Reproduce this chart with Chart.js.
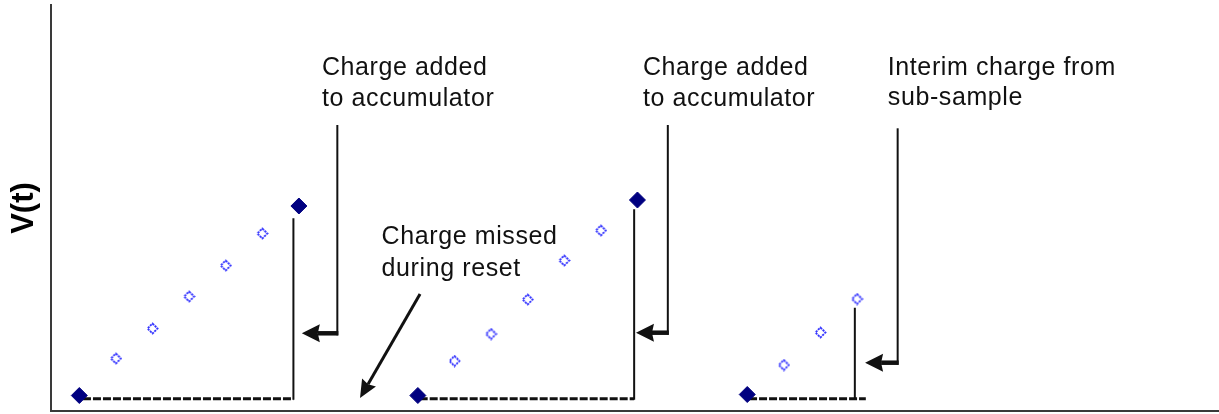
<!DOCTYPE html>
<html>
<head>
<meta charset="utf-8">
<script src="https://cdn.jsdelivr.net/npm/chart.js@4.4.1/dist/chart.umd.min.js"></script>
<style>
  html, body { margin: 0; padding: 0; background: #fff; }
  #wrap { width: 1219px; height: 414px; }
</style>
</head>
<body>
<div id="wrap"><canvas id="chart"></canvas></div>
<script>
// x in sample periods, y in arbitrary units above the reset level
const resetX = [0, 6, 9.25, 15.25, 18.25];
const resetY = [0, 189.5, 0, 195.5, 1];

const subX = [1, 2, 3, 4, 5, 10.25, 11.25, 12.25, 13.25, 14.25, 19.25, 20.25, 21.25];
const subY = [37, 67, 99, 130, 162, 34.5, 61.5, 96, 135, 165, 30.5, 63, 96.5];

// one entry per integration cycle
const cycleStartX = [0.1, 9.3, 18.3];
const cycleEndX = [5.85, 15.16, 21.49];
const cycleDropX = [5.85, 15.16, 21.19];
const cycleTopY = [177.2, 186.2, 87.8];
const cycleBaseY = -3.2;

// callouts, placed in data units
const callouts = [
    { lines: ['Charge added', 'to accumulator'], x: 6.63, y: [320.5, 289.5],
      stem: { x: 7.05, top: 270.5, y: 62.2, tip: 6.08 } },
    { lines: ['Charge added', 'to accumulator'], x: 15.4, y: [320.5, 289.5],
      stem: { x: 16.08, top: 270.5, y: 62.8, tip: 15.21 } },
    { lines: ['Interim charge from', 'sub-sample'], x: 22.09, y: [320.5, 290.5],
      stem: { x: 22.36, top: 267.2, y: 32.8, tip: 21.47 } },
    { lines: ['Charge missed', 'during reset'], x: 8.26, y: [151.2, 119.5],
      pointer: { x1: 9.31, y1: 101.5, x2: 7.67, y2: -2.5 } }
];

function dottedDiamond() {
    const c = document.createElement('canvas');
    c.width = 13;
    c.height = 13;
    const g = c.getContext('2d');
    g.strokeStyle = '#2f2fff';
    g.lineWidth = 1.8;
    g.setLineDash([2.2, 0.9]);
    g.beginPath();
    g.moveTo(6.5, 1.5);
    g.lineTo(11.5, 6.5);
    g.lineTo(6.5, 11.5);
    g.lineTo(1.5, 6.5);
    g.closePath();
    g.stroke();
    return c;
}

function drawArrow(ctx, x1, y1, x2, y2, shaft, headLen, headW) {
    const ang = Math.atan2(y2 - y1, x2 - x1);
    const bx = x2 - Math.cos(ang) * headLen;
    const by = y2 - Math.sin(ang) * headLen;
    ctx.lineWidth = shaft;
    ctx.beginPath();
    ctx.moveTo(x1, y1);
    ctx.lineTo(bx + Math.cos(ang) * 2, by + Math.sin(ang) * 2);
    ctx.stroke();
    const nx = -Math.sin(ang) * headW / 2;
    const ny = Math.cos(ang) * headW / 2;
    ctx.beginPath();
    ctx.moveTo(x2, y2);
    ctx.lineTo(bx + nx, by + ny);
    ctx.lineTo(bx + Math.cos(ang) * 2, by + Math.sin(ang) * 2);
    ctx.lineTo(bx - nx, by - ny);
    ctx.closePath();
    ctx.fill();
}

const calloutPlugin = {
    id: 'callouts',
    afterDatasetsDraw(chart) {
        const { ctx, scales: { x, y } } = chart;
        ctx.save();
        ctx.fillStyle = '#111';
        ctx.strokeStyle = '#111';
        ctx.font = '25px "Liberation Sans", Arial, sans-serif';
        ctx.letterSpacing = '0.6px';
        ctx.textBaseline = 'alphabetic';
        callouts.forEach(c => {
            c.lines.forEach((line, i) => {
                ctx.fillText(line, x.getPixelForValue(c.x), y.getPixelForValue(c.y[i]));
            });
            if (c.stem) {
                const sx = x.getPixelForValue(c.stem.x);
                const sy = y.getPixelForValue(c.stem.y);
                ctx.lineWidth = 2;
                ctx.beginPath();
                ctx.moveTo(sx, y.getPixelForValue(c.stem.top));
                ctx.lineTo(sx, sy + 2);
                ctx.stroke();
                drawArrow(ctx, sx + 1, sy, x.getPixelForValue(c.stem.tip), sy, 4.5, 18, 18);
            }
            if (c.pointer) {
                const p = c.pointer;
                drawArrow(ctx, x.getPixelForValue(p.x1), y.getPixelForValue(p.y1),
                    x.getPixelForValue(p.x2), y.getPixelForValue(p.y2), 3, 18, 16);
            }
        });
        ctx.restore();
    }
};

const datasets = [
    {
        label: 'Reset samples',
        data: resetX.map((v, i) => ({ x: v, y: resetY[i] })),
        pointStyle: 'rectRot',
        pointRadius: 8,
        backgroundColor: '#000080',
        borderColor: '#000080',
        borderWidth: 1,
        order: 0
    },
    {
        label: 'Sub-samples',
        data: subX.map((v, i) => ({ x: v, y: subY[i] })),
        pointStyle: dottedDiamond(),
        order: 0
    }
];

cycleStartX.forEach((start, i) => {
    datasets.push({
        label: 'Baseline ' + (i + 1),
        data: [{ x: start, y: cycleBaseY }, { x: cycleEndX[i], y: cycleBaseY }],
        showLine: true,
        borderColor: '#111',
        borderWidth: 3,
        borderDash: [8, 2],
        pointRadius: 0,
        order: 1
    });
    datasets.push({
        label: 'Reset ' + (i + 1),
        data: [{ x: cycleDropX[i], y: cycleBaseY - 1 }, { x: cycleDropX[i], y: cycleTopY[i] }],
        showLine: true,
        borderColor: '#111',
        borderWidth: 2,
        pointRadius: 0,
        order: 1
    });
});

new Chart(document.getElementById('chart'), {
    type: 'scatter',
    data: { datasets },
    options: {
        responsive: true,
        maintainAspectRatio: false,
        animation: false,
        layout: { autoPadding: false, padding: { left: 2, top: 5, right: 0, bottom: 3 } },
        plugins: { legend: { display: false }, tooltip: { enabled: false } },
        scales: {
            x: {
                type: 'linear',
                min: -0.768,
                max: 31.14,
                grid: { display: false, drawTicks: false },
                ticks: { display: false },
                border: { display: true, color: '#3a3a3a', width: 2 }
            },
            y: {
                type: 'linear',
                min: -15.5,
                max: 390.5,
                grid: { display: false, drawTicks: false },
                ticks: { display: false },
                border: { display: true, color: '#3a3a3a', width: 2 },
                title: {
                    display: true,
                    text: 'V(t)',
                    color: '#000',
                    font: { family: '"Liberation Sans", Arial, sans-serif', size: 31, weight: 'bold' },
                    padding: { top: 4, bottom: 8 }
                }
            }
        }
    },
    plugins: [calloutPlugin]
});
</script>
</body>
</html>
